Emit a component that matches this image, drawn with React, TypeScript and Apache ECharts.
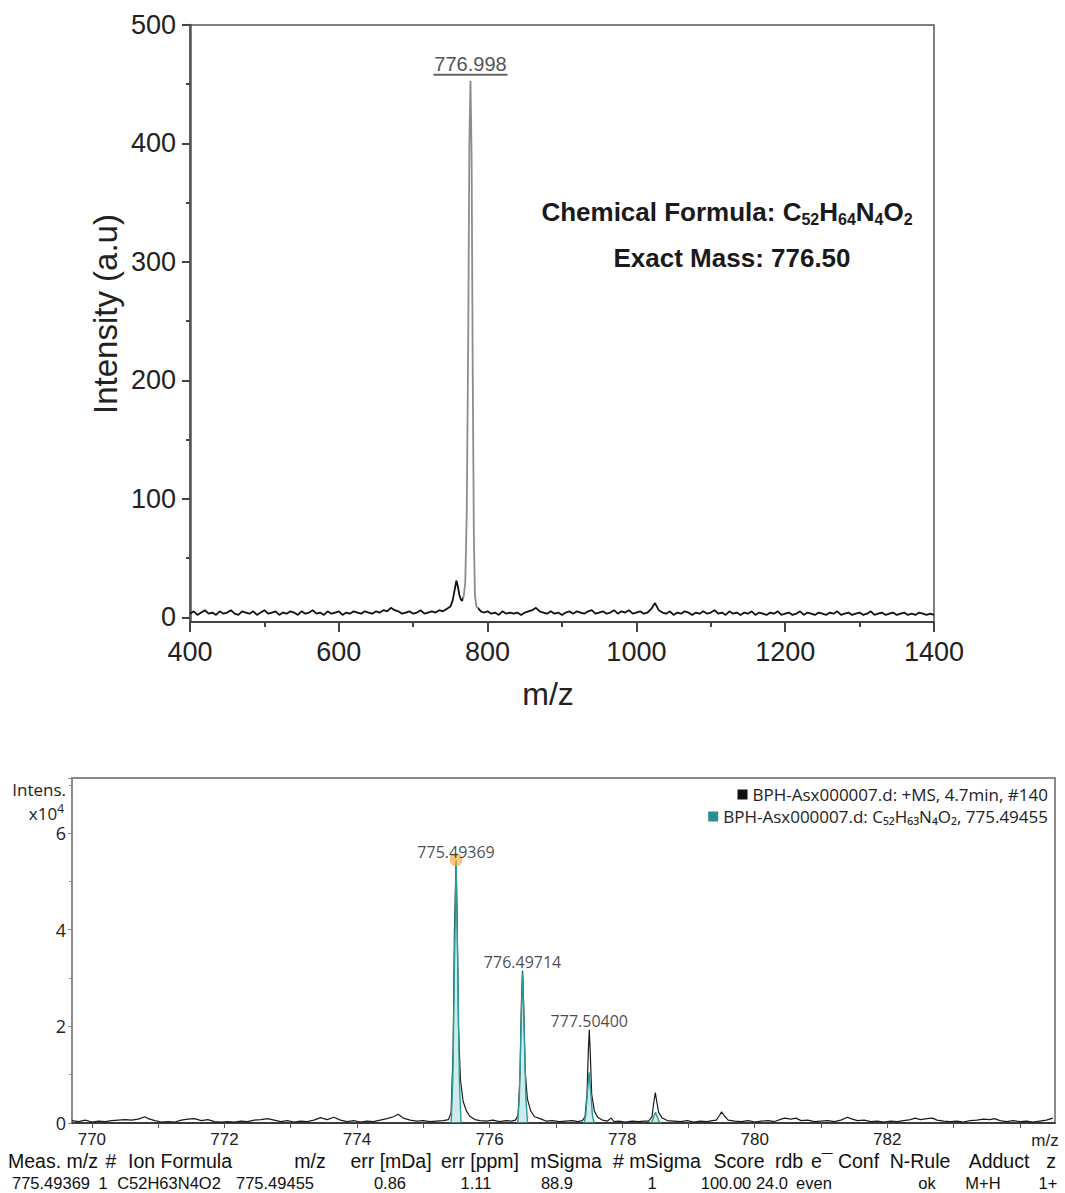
import React, { useEffect, useRef } from "react";
import * as echarts from "echarts";

// ---------- Top spectrum (MALDI, m/z vs intensity a.u.) ----------
const topSpectrum: [number, number][] = [
  [400, 3], [405, 5], [410, 2], [415, 4], [420, 6], [425, 3], [430, 4], [435, 2], [440, 5], [445, 3],
  [450, 4], [455, 6], [460, 3], [465, 2], [470, 5], [475, 4], [480, 3], [485, 5], [490, 2], [495, 4],
  [500, 6], [505, 3], [510, 4], [515, 5], [520, 2], [525, 4], [530, 3], [535, 5], [540, 4], [545, 2],
  [550, 5], [555, 3], [560, 4], [565, 6], [570, 3], [575, 4], [580, 2], [585, 5], [590, 3], [595, 4],
  [600, 5], [605, 2], [610, 4], [615, 3], [620, 5], [625, 4], [630, 3], [635, 5], [640, 4], [645, 3],
  [650, 5], [655, 4], [660, 6], [665, 5], [670, 8], [675, 6], [680, 5], [685, 3], [690, 4], [695, 5],
  [700, 3], [705, 4], [710, 6], [715, 3], [720, 4], [725, 5], [730, 4], [735, 6], [740, 5], [745, 7],
  [750, 9], [753, 14], [756, 24], [758, 31], [760, 26], [762, 19], [764, 15], [766, 14], [768, 18],
  [770, 30], [772, 90], [774, 240], [775.5, 400], [777, 453], [778.5, 390], [780, 210], [781.5, 70],
  [783, 18], [785, 9], [788, 7], [791, 5], [795, 4],
  [800, 5], [805, 3], [810, 4], [815, 2], [820, 5], [825, 3], [830, 4], [835, 3], [840, 4], [845, 2],
  [850, 4], [855, 5], [860, 6], [865, 8], [870, 5], [875, 4], [880, 3], [885, 5], [890, 3], [895, 4],
  [900, 2], [905, 4], [910, 5], [915, 3], [920, 5], [925, 4], [930, 3], [935, 5], [940, 6], [945, 3],
  [950, 4], [955, 5], [960, 3], [965, 4], [970, 6], [975, 3], [980, 5], [985, 4], [990, 6], [995, 3],
  [1000, 4], [1005, 5], [1010, 3], [1015, 4], [1020, 7], [1025, 12], [1030, 6], [1035, 4], [1040, 3], [1045, 5],
  [1050, 2], [1055, 4], [1060, 3], [1065, 5], [1070, 4], [1075, 2], [1080, 4], [1085, 3], [1090, 5], [1095, 3],
  [1100, 4], [1105, 6], [1110, 3], [1115, 4], [1120, 2], [1125, 5], [1130, 3], [1135, 4], [1140, 2], [1145, 4],
  [1150, 3], [1155, 5], [1160, 2], [1165, 4], [1170, 3], [1175, 2], [1180, 4], [1185, 3], [1190, 5], [1195, 2],
  [1200, 3], [1205, 4], [1210, 2], [1215, 3], [1220, 5], [1225, 2], [1230, 4], [1235, 3], [1240, 2], [1245, 4],
  [1250, 3], [1255, 2], [1260, 4], [1265, 3], [1270, 5], [1275, 2], [1280, 3], [1285, 4], [1290, 2], [1295, 3],
  [1300, 4], [1305, 2], [1310, 3], [1315, 5], [1320, 2], [1325, 3], [1330, 4], [1335, 2], [1340, 3], [1345, 4],
  [1350, 2], [1355, 3], [1360, 4], [1365, 2], [1370, 3], [1375, 2], [1380, 4], [1385, 3], [1390, 2], [1395, 3],
  [1400, 2],
];
const topPeakLabel = "776.998";
const topYTicks = [0, 100, 200, 300, 400, 500];
const topYMinorTicks = [50, 150, 250, 350, 450];
const formulaLine = ["Chemical Formula: C", "52", "H", "64", "N", "4", "O", "2"];
const exactMassLine = "Exact Mass: 776.50";

// ---------- Bottom spectrum (ESI-HRMS, x10^4) ----------
const bottomSpectrum: [number, number][] = [
  [769.7, 0.05], [769.8, 0.03], [769.9, 0.06], [770.0, 0.02], [770.1, 0.04], [770.2, 0.03], [770.3, 0.05],
  [770.4, 0.06], [770.5, 0.07], [770.6, 0.06], [770.7, 0.08], [770.8, 0.13], [770.85, 0.09], [770.95, 0.05],
  [771.05, 0.02], [771.15, 0.03], [771.25, 0.02], [771.35, 0.06], [771.45, 0.08], [771.55, 0.09], [771.65, 0.05],
  [771.75, 0.07], [771.85, 0.03], [771.95, 0.02], [772.05, 0.03], [772.15, 0.02], [772.25, 0.04], [772.35, 0.03],
  [772.45, 0.06], [772.55, 0.07], [772.65, 0.09], [772.75, 0.06], [772.85, 0.03], [772.95, 0.05], [773.05, 0.02],
  [773.15, 0.04], [773.25, 0.03], [773.35, 0.06], [773.45, 0.11], [773.55, 0.07], [773.65, 0.12], [773.75, 0.06],
  [773.85, 0.03], [773.95, 0.05], [774.05, 0.02], [774.15, 0.04], [774.25, 0.03], [774.35, 0.06], [774.45, 0.09],
  [774.55, 0.13], [774.62, 0.18], [774.7, 0.1], [774.8, 0.06], [774.9, 0.04], [775.0, 0.05], [775.1, 0.03],
  [775.2, 0.04], [775.3, 0.05],
  [775.38, 0.07], [775.42, 0.22], [775.45, 1.5], [775.47, 4.0], [775.494, 5.4], [775.51, 4.3], [775.53, 2.0],
  [775.56, 0.9], [775.6, 0.45], [775.65, 0.25], [775.7, 0.14], [775.78, 0.07], [775.85, 0.05], [775.95, 0.04],
  [776.05, 0.06], [776.15, 0.03], [776.25, 0.05], [776.33, 0.04],
  [776.39, 0.06], [776.43, 0.16], [776.46, 1.0], [776.48, 2.5], [776.497, 3.15], [776.515, 2.4], [776.535, 1.1],
  [776.57, 0.5], [776.62, 0.25], [776.68, 0.13], [776.76, 0.09], [776.85, 0.04], [776.95, 0.05], [777.05, 0.03],
  [777.15, 0.04], [777.25, 0.05], [777.33, 0.03],
  [777.4, 0.05], [777.44, 0.13], [777.47, 0.6], [777.49, 1.5], [777.504, 1.93], [777.52, 1.4], [777.54, 0.6],
  [777.58, 0.25], [777.63, 0.12], [777.7, 0.06], [777.78, 0.04], [777.83, 0.1], [777.88, 0.03], [777.95, 0.04],
  [778.05, 0.02], [778.15, 0.04], [778.25, 0.03], [778.33, 0.04],
  [778.4, 0.04], [778.45, 0.13], [778.48, 0.45], [778.5, 0.63], [778.52, 0.46], [778.55, 0.22], [778.6, 0.11],
  [778.68, 0.05], [778.78, 0.04], [778.88, 0.03], [778.98, 0.05], [779.08, 0.02], [779.18, 0.04], [779.28, 0.03],
  [779.36, 0.05],
  [779.42, 0.06], [779.47, 0.16], [779.5, 0.23], [779.54, 0.15], [779.6, 0.06], [779.7, 0.04], [779.8, 0.03],
  [779.9, 0.05], [780.0, 0.02], [780.1, 0.04], [780.2, 0.05], [780.3, 0.03], [780.4, 0.08], [780.45, 0.1],
  [780.55, 0.08], [780.62, 0.1], [780.7, 0.05], [780.8, 0.06], [780.9, 0.03], [781.0, 0.04], [781.1, 0.05],
  [781.2, 0.03], [781.3, 0.06], [781.4, 0.12], [781.45, 0.09], [781.55, 0.05], [781.65, 0.06], [781.75, 0.03],
  [781.85, 0.04], [781.95, 0.02], [782.05, 0.04], [782.15, 0.03], [782.25, 0.05], [782.35, 0.07], [782.42, 0.1],
  [782.5, 0.07], [782.6, 0.09], [782.68, 0.1], [782.75, 0.06], [782.85, 0.04], [782.95, 0.03], [783.05, 0.04],
  [783.15, 0.02], [783.25, 0.05], [783.35, 0.06], [783.45, 0.08], [783.55, 0.07], [783.62, 0.09], [783.7, 0.05],
  [783.8, 0.03], [783.9, 0.05], [784.0, 0.03], [784.1, 0.04], [784.2, 0.02], [784.3, 0.04], [784.4, 0.06],
  [784.5, 0.1],
];
const isotopePattern: [number, number | null][] = [
  [775.42, 0], [775.445, 0.9], [775.468, 3.1], [775.4946, 5.45], [775.521, 3.1], [775.544, 0.9], [775.569, 0],
  [776.0, null],
  [776.423, 0], [776.448, 0.5], [776.471, 1.8], [776.498, 3.12], [776.525, 1.8], [776.548, 0.5], [776.573, 0],
  [777.0, null],
  [777.426, 0], [777.451, 0.17], [777.474, 0.6], [777.501, 1.05], [777.528, 0.6], [777.551, 0.17], [777.576, 0],
  [778.0, null],
  [778.428, 0], [778.453, 0.04], [778.476, 0.13], [778.503, 0.22], [778.53, 0.13], [778.553, 0.04], [778.578, 0],
];
const peakLabels = ["775.49369", "776.49714", "777.50400"];
const peakMz = [775.49369, 776.49714, 777.504];
const peakHeights = [5.42, 3.15, 1.93];
const monoMarker: [number, number] = [775.49369, 5.45];
const bottomXLabels = [770, 772, 774, 776, 778, 780, 782];
const bottomXTicks = [770, 771, 772, 773, 774, 775, 776, 777, 778, 779, 780, 781, 782, 783, 784];
const measuredName = "BPH-Asx000007.d: +MS, 4.7min, #140";
const simulatedName = "BPH-Asx000007.d: C₅₂H₆₃N₄O₂, 775.49455";

// ---------- Table ----------
const tableHeaders = ["Meas. m/z", "#", "Ion Formula", "m/z", "err [mDa]", "err [ppm]", "mSigma", "# mSigma", "Score", "rdb", "e¯ Conf", "N-Rule", "Adduct", "z"];
const tableValues = ["775.49369", "1", "C52H63N4O2", "775.49455", "0.86", "1.11", "88.9", "1", "100.00", "24.0", "even", "ok", "M+H", "1+"];
const headerCenters = [53, 111, 180, 310, 391, 480, 566, 657, 739, 789, 845, 920, 999, 1051];
const valueCenters = [51, 103, 169, 275, 390, 476, 557, 652, 726, 772, 814, 927, 983, 1048];

const SANS = "Liberation Sans, Arial, sans-serif";
const UI = "Open Sans, Noto Sans, sans-serif";

export default function App() {
  const ref = useRef<HTMLDivElement>(null);
  useEffect(() => {
    const chart = echarts.init(ref.current!, null, { renderer: "svg" });
    const option: any = {
      animation: false,
      backgroundColor: "#fff",
      textStyle: { fontFamily: SANS },
      grid: [
        { left: 190, right: 131, top: 25, bottom: 571, show: true, borderColor: "#555", borderWidth: 1.5, outerBoundsMode: "none" },
        { left: 72, right: 10, top: 778, bottom: 70, show: true, borderColor: "#666", borderWidth: 1.5, outerBoundsMode: "none" },
      ],
      legend: [
        { data: [measuredName], right: 12, top: 781, icon: "rect", itemWidth: 10, itemHeight: 10, itemGap: 6, textStyle: { fontFamily: UI, fontSize: 17, color: "#222" } },
        { data: [simulatedName], right: 12, top: 803, icon: "rect", itemWidth: 10, itemHeight: 10, itemGap: 6, textStyle: { fontFamily: UI, fontSize: 17, color: "#222" } },
      ],
      visualMap: {
        show: false,
        type: "piecewise",
        seriesIndex: 0,
        dimension: 0,
        pieces: [{ min: 767, max: 787, color: "#8c8c8c" }],
        outOfRange: { color: "#111" },
      },
      xAxis: [
        {
          type: "value", gridIndex: 0, min: 400, max: 1400, interval: 200,
          axisLine: { show: true, onZero: false, lineStyle: { color: "#444", width: 2 } },
          axisTick: { show: true, length: 10, lineStyle: { color: "#444", width: 2 } },
          minorTick: { show: true, splitNumber: 2, length: 5, lineStyle: { color: "#444", width: 2 } },
          axisLabel: { fontSize: 27, color: "#222", margin: 16, fontFamily: SANS, formatter: (v: number) => String(v) },
          splitLine: { show: false },
        },
        {
          type: "value", gridIndex: 1, min: 769.7, max: 784.53,
          axisLine: { show: true, onZero: false, lineStyle: { color: "#222", width: 1.5 } },
          axisTick: { show: true, length: 5, customValues: bottomXTicks, lineStyle: { color: "#555", width: 1 } },
          axisLabel: { fontSize: 17, color: "#222", margin: 8, fontFamily: SANS, customValues: bottomXLabels, formatter: (v: number) => String(v) },
          splitLine: { show: false },
        },
      ],
      yAxis: [
        {
          type: "value", gridIndex: 0, position: "left", min: -4, max: 500,
          axisLine: { show: true, lineStyle: { color: "#555", width: 2.5 } },
          axisTick: { show: true, length: 8, customValues: topYTicks, lineStyle: { color: "#444", width: 2 } },
          axisLabel: { fontSize: 27, color: "#222", margin: 14, fontFamily: SANS, customValues: topYTicks },
          splitLine: { show: false },
        },
        {
          type: "value", gridIndex: 0, position: "left", min: -4, max: 500,
          axisLine: { show: false },
          axisTick: { show: true, length: 4, customValues: topYMinorTicks, lineStyle: { color: "#444", width: 2 } },
          axisLabel: { show: false },
          splitLine: { show: false },
        },
        {
          type: "value", gridIndex: 1, min: 0, max: 7.14, interval: 2,
          axisLine: { show: true, lineStyle: { color: "#8a8a8a", width: 2 } },
          axisTick: { show: true, length: 4, lineStyle: { color: "#8a8a8a", width: 1 } },
          minorTick: { show: true, splitNumber: 2, length: 3, lineStyle: { color: "#8a8a8a", width: 1 } },
          axisLabel: { fontSize: 18, color: "#222", margin: 6, fontFamily: UI, showMaxLabel: false },
          splitLine: { show: false },
        },
      ],
      series: [
        {
          name: "top", type: "line", xAxisIndex: 0, yAxisIndex: 0, data: topSpectrum,
          showSymbol: false, symbol: "none", lineStyle: { width: 1.8 }, z: 3,
        },
        {
          name: measuredName, type: "line", xAxisIndex: 1, yAxisIndex: 2, data: bottomSpectrum,
          showSymbol: false, symbol: "none", color: "#111", lineStyle: { width: 1.2, color: "#1a1a1a" }, z: 3,
        },
        {
          name: simulatedName, type: "line", xAxisIndex: 1, yAxisIndex: 2, data: isotopePattern,
          showSymbol: false, symbol: "none", connectNulls: false, color: "#2a8f8f",
          lineStyle: { width: 1.4, color: "#2a9a9a" },
          areaStyle: { color: "rgba(140,210,210,0.6)", origin: "start" }, z: 4,
        },
        {
          name: "marker", type: "scatter", xAxisIndex: 1, yAxisIndex: 2, data: [monoMarker],
          symbolSize: 13, itemStyle: { color: "rgba(245,170,60,0.85)" }, z: 5,
        },
        {
          name: "peaks", type: "scatter", xAxisIndex: 1, yAxisIndex: 2,
          data: peakMz.map((m, i) => ({ value: [m, peakHeights[i]], name: peakLabels[i] })),
          symbolSize: 0, z: 6,
          label: { show: true, position: "top", distance: 1, formatter: (p: any) => p.name, fontFamily: UI, fontSize: 16, color: "#1a1a1a" },
        },
      ],
    };
    chart.setOption(option);

    const peak = topSpectrum.reduce((a, b) => (b[1] > a[1] ? b : a));
    const [px, py] = chart.convertToPixel({ xAxisIndex: 0, yAxisIndex: 0 }, peak) as number[];

    const graphic: any[] = [
      { type: "text", x: px, y: py - 17, style: { text: topPeakLabel, fontSize: 20, fontFamily: SANS, fill: "#555", align: "center", verticalAlign: "middle" } },
      { type: "line", shape: { x1: px - 37, y1: py - 6, x2: px + 37, y2: py - 6 }, style: { stroke: "#666", lineWidth: 2 } },
      { type: "text", x: 105, y: 314, rotation: Math.PI / 2, style: { text: "Intensity (a.u)", fontSize: 33, fontFamily: SANS, fill: "#222", align: "center", verticalAlign: "middle" } },
      { type: "text", x: 548, y: 694, style: { text: "m/z", fontSize: 32, fontFamily: SANS, fill: "#222", align: "center", verticalAlign: "middle" } },
      {
        type: "text", x: 727, y: 212,
        style: {
          text: formulaLine.map((s, i) => (i % 2 === 1 ? `{s|${s}}` : `{m|${s}}`)).join(""),
          align: "center", verticalAlign: "middle",
          rich: {
            m: { fontSize: 26, fontWeight: "bold", fontFamily: SANS, fill: "#1a1a1a", color: "#1a1a1a", lineHeight: 30, verticalAlign: "middle" },
            s: { fontSize: 16, fontWeight: "bold", fontFamily: SANS, fill: "#1a1a1a", color: "#1a1a1a", lineHeight: 16, verticalAlign: "bottom" },
          },
        },
      },
      { type: "text", x: 732, y: 258, style: { text: exactMassLine, fontSize: 26, fontWeight: "bold", fontFamily: SANS, fill: "#1a1a1a", align: "center", verticalAlign: "middle" } },
      { type: "text", x: 66, y: 789, style: { text: "Intens.", fontSize: 17, lineHeight: 18, fontFamily: UI, fill: "#222", align: "right", verticalAlign: "middle" } },
      {
        type: "text", x: 64, y: 812,
        style: {
          text: "{a|x10}{b|4}", align: "right", verticalAlign: "middle",
          rich: {
            a: { fontSize: 17, fontFamily: UI, color: "#222", fill: "#222", lineHeight: 19, verticalAlign: "bottom" },
            b: { fontSize: 12, fontFamily: UI, color: "#222", fill: "#222", lineHeight: 19, verticalAlign: "top" },
          },
        },
      },
      { type: "text", x: 1045, y: 1140, style: { text: "m/z", fontSize: 17, fontFamily: SANS, fill: "#222", align: "center", verticalAlign: "middle" } },
      ...tableHeaders.map((h, i) => ({
        type: "text", x: headerCenters[i], y: 1161,
        style: { text: h, fontSize: 19.5, fontFamily: SANS, fill: "#111", align: "center", verticalAlign: "middle" },
      })),
      ...tableValues.map((v, i) => ({
        type: "text", x: valueCenters[i], y: 1183,
        style: { text: v, fontSize: 16.5, fontFamily: SANS, fill: "#111", align: "center", verticalAlign: "middle" },
      })),
    ];
    chart.setOption({ graphic });
    return () => chart.dispose();
  }, []);
  return <div ref={ref} style={{ position: "absolute", left: 0, top: 0, width: 1065, height: 1193, background: "#fff" }} />;
}
